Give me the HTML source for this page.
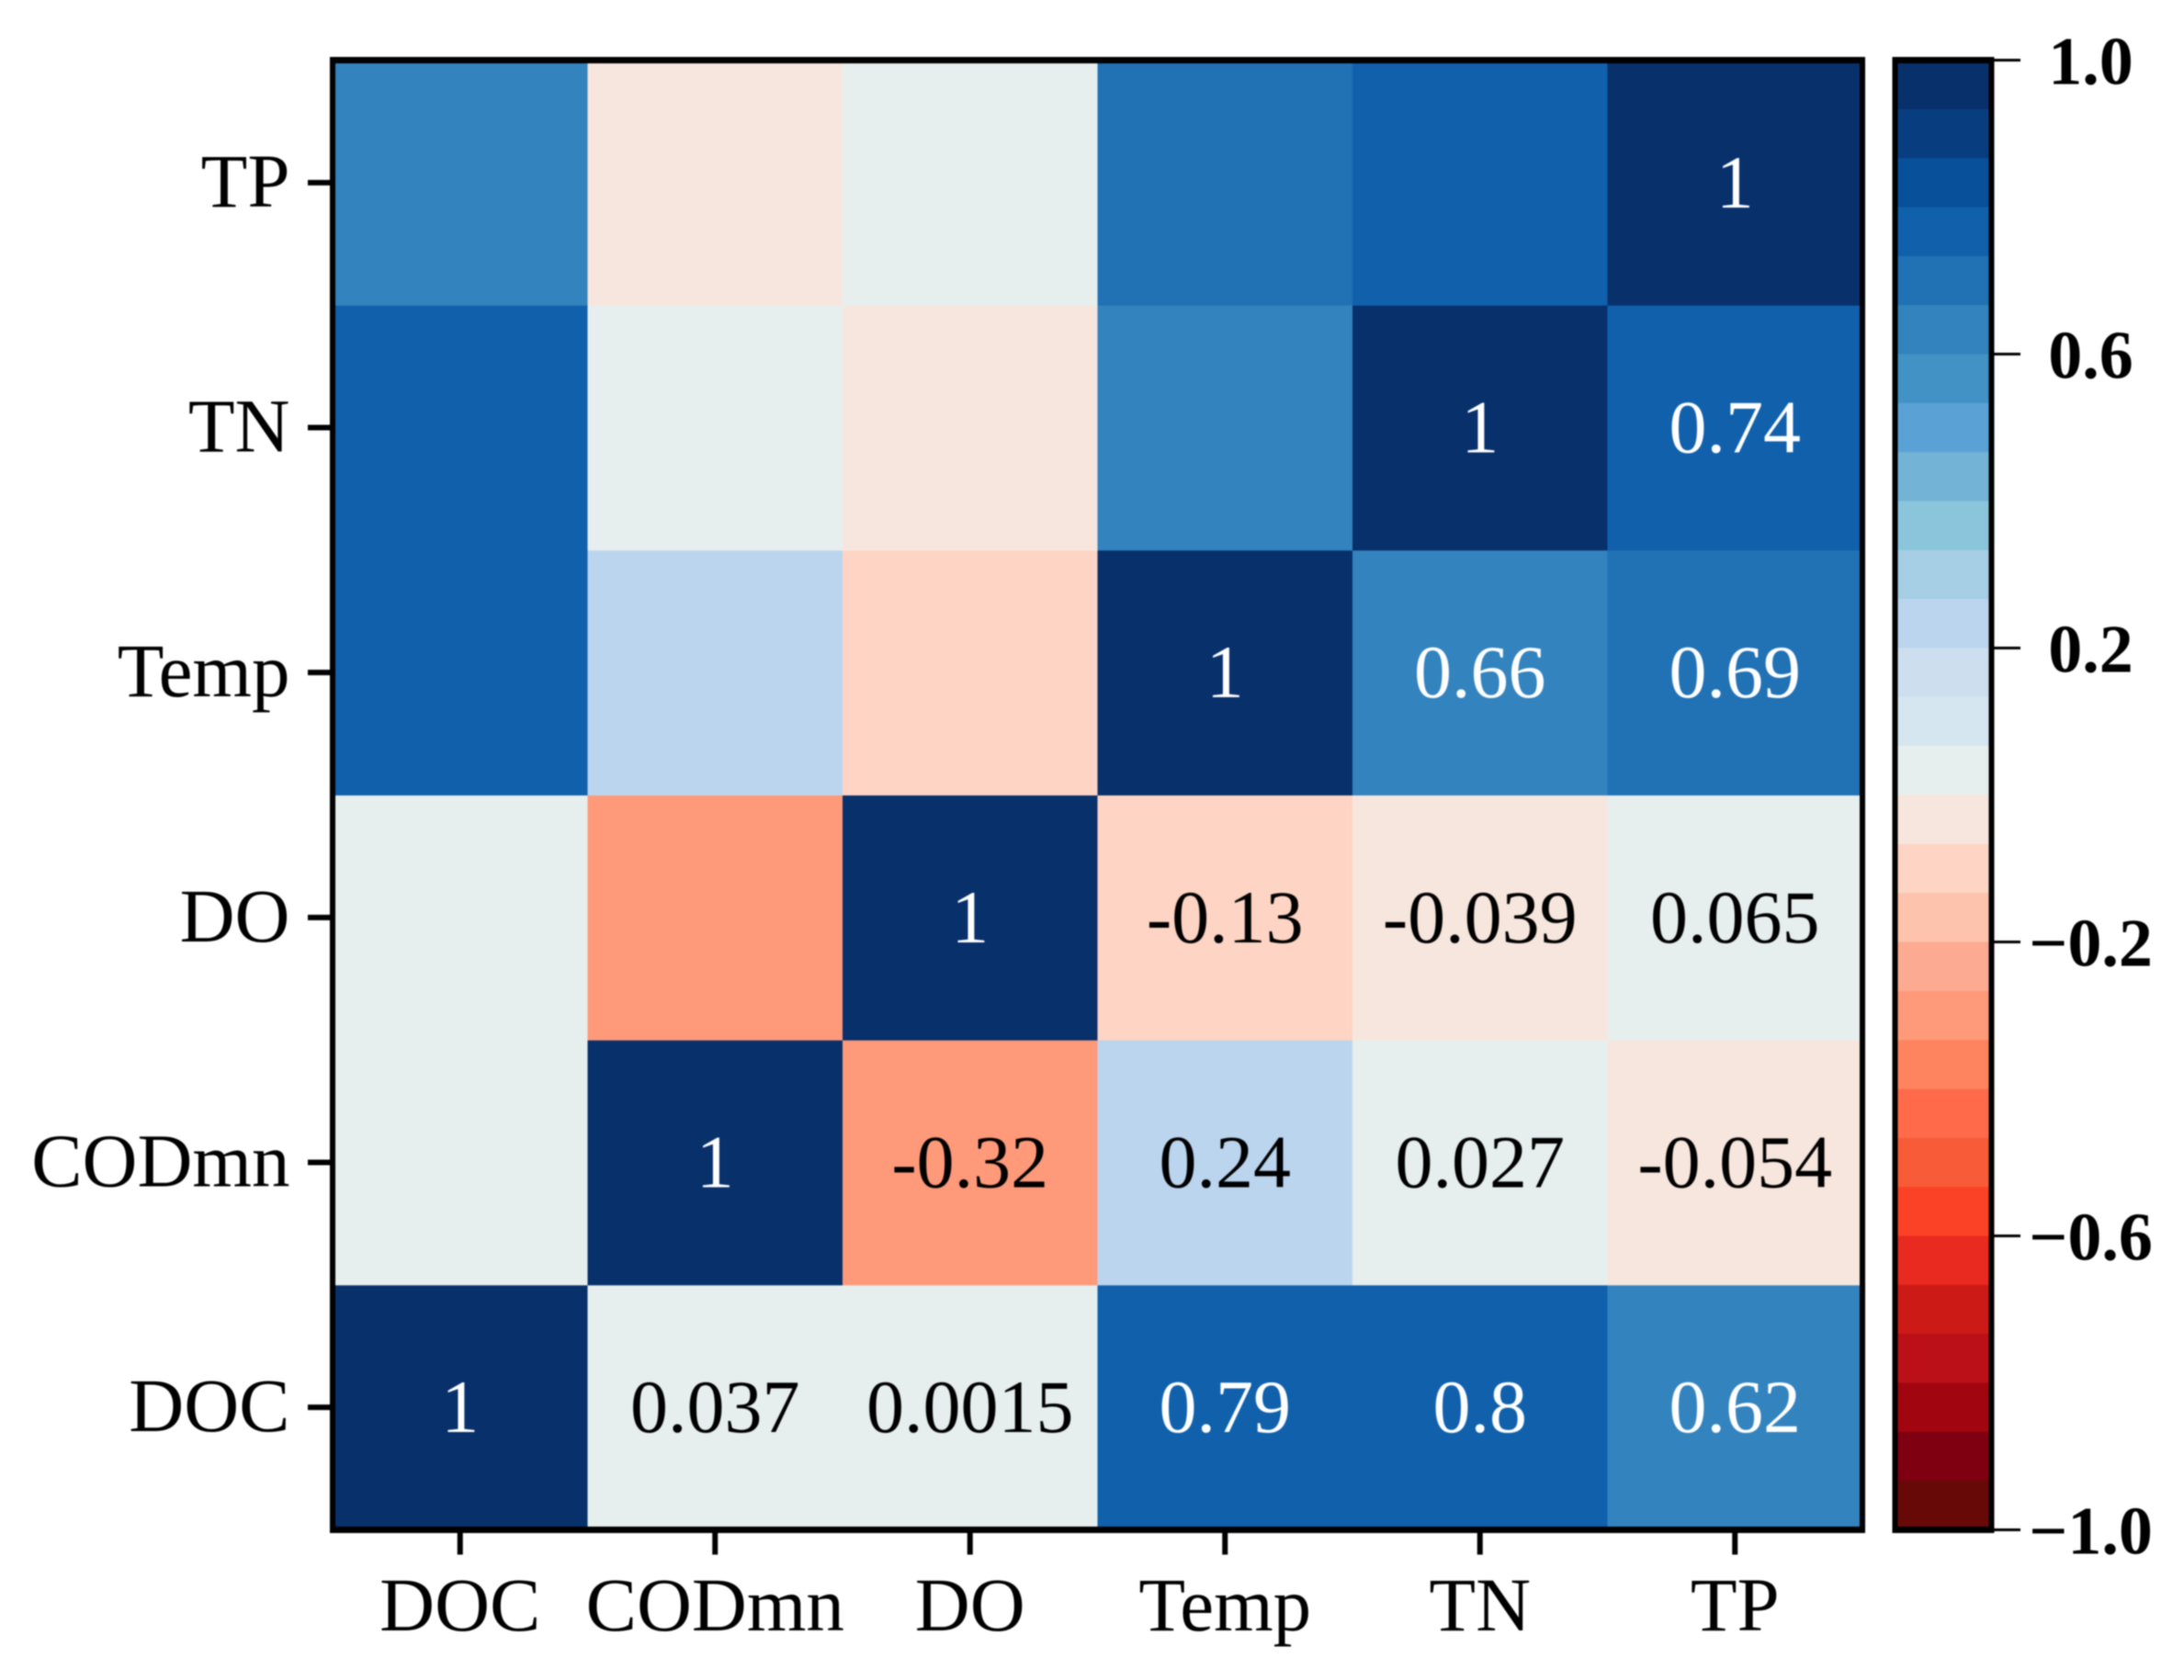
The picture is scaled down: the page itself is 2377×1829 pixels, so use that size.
<!DOCTYPE html>
<html>
<head>
<meta charset="utf-8">
<title>Correlation heatmap</title>
<style>
html,body{margin:0;padding:0;background:#fff;width:2377px;height:1829px;overflow:hidden}
svg{display:block;filter:blur(0.8px)}
text{font-family:"Liberation Serif","Times New Roman",serif}
</style>
</head>
<body>
<svg id="chart" xmlns="http://www.w3.org/2000/svg" width="2377" height="1829" viewBox="0 0 2377 1829"></svg>
<script>
const categories = ['DOC', 'CODmn', 'DO', 'Temp', 'TN', 'TP'];
const rowDOC = [1, 0.037, 0.0015, 0.79, 0.8, 0.62];
const rowCODmn = [0.037, 1, -0.32, 0.24, 0.027, -0.054];
const rowDO = [0.0015, -0.32, 1, -0.13, -0.039, 0.065];
const rowTemp = [0.79, 0.24, -0.13, 1, 0.66, 0.69];
const rowTN = [0.8, 0.027, -0.039, 0.66, 1, 0.74];
const rowTP = [0.62, -0.054, 0.065, 0.69, 0.74, 1];
const matrix = [rowDOC, rowCODmn, rowDO, rowTemp, rowTN, rowTP];
const colorbarTicks = [1.0, 0.6, 0.2, -0.2, -0.6, -1.0];
const colorbarTickLabels = ['1.0', '0.6', '0.2', '\u22120.2', '\u22120.6', '\u22121.0'];
const palette = ['#08306b', '#083e80', '#08509a', '#1060ac', '#2171b5', '#3383be', '#4292c6', '#5aa2d6', '#73b3d6', '#8ac5dc', '#a6cee4', '#bbd5ef', '#cddfee', '#d6e6f0', '#e6efee', '#f7e6dd', '#fed4c4', '#fec3ac', '#fdaa92', '#fe9a7a', '#fe8460', '#ff6b4a', '#f85b38', '#fb4226', '#e82a20', '#cc1a16', '#bb1018', '#a10610', '#7f0010', '#670a07'];

const svg = document.getElementById('chart');
const NS = 'http://www.w3.org/2000/svg';
const plot = {left: 362, right: 2027, top: 65.5, bottom: 1665.5};
const bar = {left: 2062.5, right: 2167.5, top: 65.5, bottom: 1665.5};
const n = categories.length;
const cellW = (plot.right - plot.left) / n;
const cellH = (plot.bottom - plot.top) / n;

function xCol(i) { return plot.left + i * cellW; }
function yRow(i) { return plot.bottom - (i + 1) * cellH; }
function yBar(v) { return bar.top + (1 - v) / 2 * (bar.bottom - bar.top); }
function colorOf(v) {
  const idx = Math.min(palette.length - 1, Math.max(0, Math.floor((1 - v) / 2 * palette.length + 1e-9)));
  return palette[idx];
}
function make(tag, attrs, text) {
  const el = document.createElementNS(NS, tag);
  for (const k in attrs) el.setAttribute(k, attrs[k]);
  if (text !== undefined) el.textContent = text;
  svg.appendChild(el);
  return el;
}
function drawFrame(box, name) {
  const sides = [
    [box.left - 3, box.top, box.right + 3, box.top, 7],
    [box.left - 3, box.bottom, box.right + 3, box.bottom, 7],
    [box.left, box.top, box.left, box.bottom, 6],
    [box.right, box.top, box.right, box.bottom, 6]
  ];
  sides.forEach(function (s) {
    const side = make('line', {x1: s[0], y1: s[1], x2: s[2], y2: s[3], stroke: '#000', 'stroke-width': s[4]});
    
    
  });
}

// heatmap cells and annotations
matrix.forEach(function (row, r) {
  row.forEach(function (v, c) {
    const cell = make('rect', {x: xCol(c), y: yRow(r), width: cellW + 0.5, height: cellH + 0.5, fill: colorOf(v)});
    
    
  });
});
matrix.forEach(function (row, r) {
  row.forEach(function (v, c) {
    if (c < r) return;
    const label = make('text', {x: xCol(c) + cellW / 2, y: yRow(r) + cellH / 2 + 27, 'font-size': 82, 'text-anchor': 'middle', fill: Math.abs(v) > 0.5 ? '#ffffff' : '#000000'}, String(v));
    
    
  });
});

drawFrame(plot, 'heatmap-frame');

// axis ticks and labels
categories.forEach(function (name, i) {
  const cx = xCol(i) + cellW / 2;
  const cy = yRow(i) + cellH / 2;
  const xt = make('line', {x1: cx, x2: cx, y1: plot.bottom, y2: plot.bottom + 27, stroke: '#000', 'stroke-width': 6});
  
  
  const xl = make('text', {x: cx, y: 1775, 'font-size': 83, 'text-anchor': 'middle', fill: '#000'}, name);
  
  
  const yt = make('line', {x1: plot.left - 27, x2: plot.left, y1: cy, y2: cy, stroke: '#000', 'stroke-width': 6});
  
  
  const yl = make('text', {x: 315.5, y: cy + 26, 'font-size': 83, 'text-anchor': 'end', fill: '#000'}, name);
  
  
});

// colorbar
const step = 2 / palette.length;
palette.forEach(function (color, i) {
  const vTop = 1 - i * step;
  const seg = make('rect', {x: bar.left, y: yBar(vTop), width: bar.right - bar.left, height: yBar(vTop - step) - yBar(vTop) + 0.5, fill: color});
  
  
});
drawFrame(bar, 'colorbar-frame');
colorbarTicks.forEach(function (v, i) {
  const t = make('line', {x1: bar.right, x2: 2199, y1: yBar(v), y2: yBar(v), stroke: '#000', 'stroke-width': 3});
  
  
  const l = make('text', {x: 2275.5, y: yBar(v) + 26, 'font-size': 74, 'font-weight': 'bold', 'text-anchor': 'middle', fill: '#000'}, colorbarTickLabels[i]);
  
  
});
</script>
</body>
</html>
